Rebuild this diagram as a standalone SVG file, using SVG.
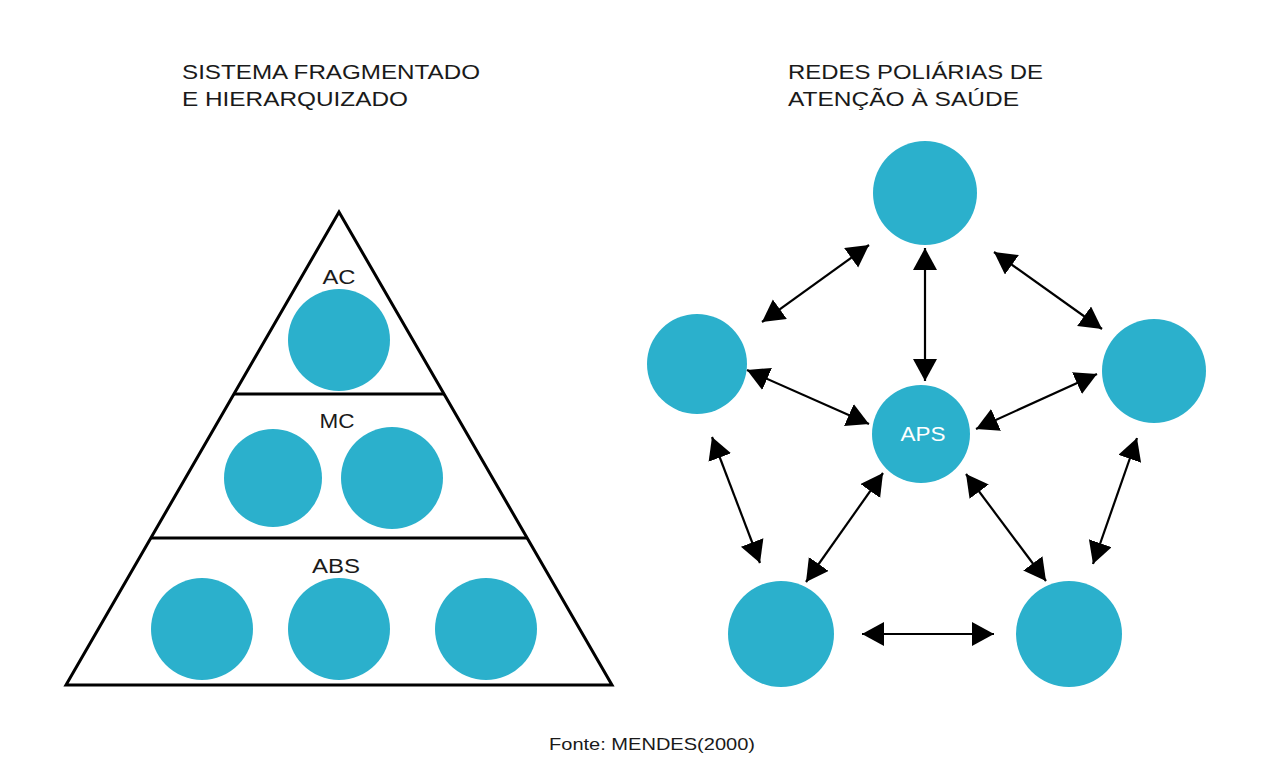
<svg xmlns="http://www.w3.org/2000/svg" width="1263" height="762" viewBox="0 0 1263 762">
<style>
.n{fill:#2BB0CC}
.t{font-family:"Liberation Sans",Arial,sans-serif;fill:#1a1a1a}
.h{font-size:21px}
.l{font-size:20px;text-anchor:middle}
.c{stroke:#000;stroke-width:2.2;fill:none;marker-start:url(#ah);marker-end:url(#ah)}
.tri{stroke:#000;stroke-width:3;fill:none;stroke-linejoin:miter}
</style>
<defs>
<marker id="ah" markerUnits="userSpaceOnUse" markerWidth="24" markerHeight="26" refX="22" refY="12" orient="auto-start-reverse" viewBox="0 0 24 26">
<path d="M0,0 L22,12 L0,24 Z" fill="#000"/>
</marker>
</defs>
<rect width="1263" height="762" fill="#fff"/>
<g id="titles">
<text class="t h" x="182" y="79" textLength="298" lengthAdjust="spacingAndGlyphs">SISTEMA FRAGMENTADO</text>
<text class="t h" x="182" y="106" textLength="226" lengthAdjust="spacingAndGlyphs">E HIERARQUIZADO</text>
<text class="t h" x="788" y="79" textLength="255" lengthAdjust="spacingAndGlyphs">REDES POLIÁRIAS DE</text>
<text class="t h" x="788" y="106" textLength="231" lengthAdjust="spacingAndGlyphs">ATENÇÃO À SAÚDE</text>
</g>
<g id="pyramid">
<path class="tri" d="M339,212 L66,685 L612,685 Z"/>
<line class="tri" x1="234" y1="394" x2="444" y2="394"/>
<line class="tri" x1="151" y1="538" x2="527" y2="538"/>
</g>
<g id="ac">
<text class="t l" x="339" y="284" textLength="33" lengthAdjust="spacingAndGlyphs">AC</text>
<circle class="n" cx="339" cy="340" r="51"/>
</g>
<g id="mc">
<text class="t l" x="337" y="428" textLength="35" lengthAdjust="spacingAndGlyphs">MC</text>
<circle class="n" cx="273" cy="478" r="49"/>
<circle class="n" cx="392" cy="478" r="51"/>
</g>
<g id="abs">
<text class="t l" x="336" y="573" textLength="48" lengthAdjust="spacingAndGlyphs">ABS</text>
<circle class="n" cx="202" cy="629" r="51"/>
<circle class="n" cx="339" cy="629" r="51"/>
<circle class="n" cx="486" cy="629" r="51"/>
</g>
<g id="node-top"><circle class="n" cx="925" cy="193" r="52"/></g>
<g id="node-left"><circle class="n" cx="697" cy="364" r="50"/></g>
<g id="node-right"><circle class="n" cx="1154" cy="371" r="52"/></g>
<g id="node-aps"><circle class="n" cx="921" cy="434" r="49"/>
<text class="l" x="923" y="441" textLength="45" lengthAdjust="spacingAndGlyphs" style="font-family:'Liberation Sans',Arial,sans-serif;fill:#fff">APS</text></g>
<g id="node-bl"><circle class="n" cx="781" cy="634" r="53"/></g>
<g id="node-br"><circle class="n" cx="1069" cy="634" r="53"/></g>
<g id="connectors">
<line class="c" x1="762" y1="322" x2="869" y2="245"/>
<line class="c" x1="925" y1="248" x2="925" y2="381"/>
<line class="c" x1="994" y1="252" x2="1102" y2="329"/>
<line class="c" x1="747" y1="370" x2="869" y2="424"/>
<line class="c" x1="976" y1="429" x2="1097" y2="374"/>
<line class="c" x1="712" y1="437" x2="760" y2="563"/>
<line class="c" x1="883" y1="473" x2="806" y2="582"/>
<line class="c" x1="966" y1="474" x2="1046" y2="581"/>
<line class="c" x1="1137" y1="438" x2="1093" y2="564"/>
<line class="c" x1="862" y1="634" x2="994" y2="634"/>
</g>
<g id="footer">
<text class="t" x="549" y="750" textLength="206" lengthAdjust="spacingAndGlyphs" style="font-size:17px">Fonte: MENDES(2000)</text>
</g>
</svg>
